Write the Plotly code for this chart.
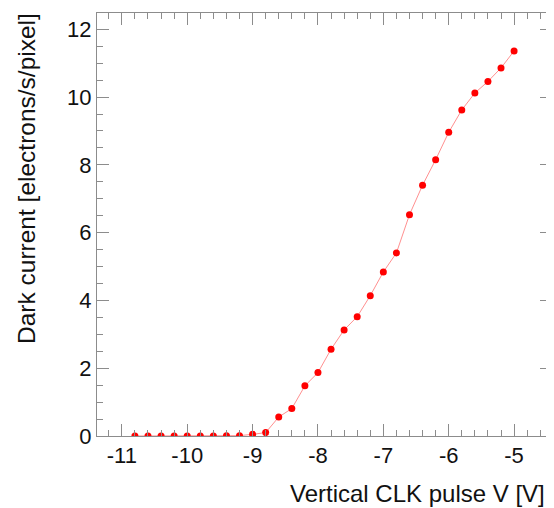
import plotly.graph_objects as go

voltage = [-10.8, -10.6, -10.4, -10.2, -10.0, -9.8, -9.6, -9.4, -9.2, -9.0,
           -8.8, -8.6, -8.4, -8.2, -8.0, -7.8, -7.6, -7.4, -7.2, -7.0,
           -6.8, -6.6, -6.4, -6.2, -6.0, -5.8, -5.6, -5.4, -5.2, -5.0]
dark_current = [0.0, 0.0, 0.0, 0.0, 0.0, 0.0, 0.0, 0.01, 0.01, 0.05,
                0.1, 0.56, 0.81, 1.48, 1.87, 2.56, 3.13, 3.52, 4.14, 4.84,
                5.40, 6.53, 7.40, 8.15, 8.96, 9.62, 10.12, 10.46, 10.86, 11.36]

x_tick_vals = [-11, -10, -9, -8, -7, -6, -5]
x_tick_text = ["-11", "-10", "-9", "-8", "-7", "-6", "-5"]
y_tick_vals = [0, 2, 4, 6, 8, 10, 12]
y_tick_text = ["0", "2", "4", "6", "8", "10", "12"]

x_title = "Vertical CLK pulse V [V]"
y_title = "Dark current [electrons/s/pixel]"

font_family = "Liberation Sans, Arial, Helvetica, sans-serif"
frame_color = "#8c8c8c"
FS = 22
TS = 24

fig = go.Figure()
fig.add_trace(go.Scatter(
    x=voltage, y=dark_current, mode="lines+markers",
    line=dict(color="#ff9090", width=1),
    marker=dict(color="#ff0000", size=7),
    showlegend=False,
))

axis_common = dict(
    showgrid=False, zeroline=False, showline=True, linecolor=frame_color,
    linewidth=1, mirror="allticks", ticks="inside", tickcolor=frame_color,
    tickwidth=1, ticklen=12, automargin=False,
    tickfont=dict(family=font_family, size=FS, color="#111"),
)

fig.update_xaxes(
    range=[-11.38, -4.42], tickmode="array", tickvals=x_tick_vals, ticktext=x_tick_text,
    minor=dict(ticks="inside", ticklen=6, tickcolor=frame_color, dtick=0.2, tick0=-11, showgrid=False),
    **axis_common,
)
fig.update_yaxes(
    range=[0, 12.48], tickmode="array", tickvals=y_tick_vals, ticktext=y_tick_text,
    minor=dict(ticks="inside", ticklen=6, tickcolor=frame_color, dtick=0.5, tick0=0, showgrid=False),
    **axis_common,
)

fig.add_annotation(text=x_title, xref="paper", yref="paper", x=1, y=0,
                   xanchor="right", yanchor="top", yshift=-42, xshift=-5,
                   showarrow=False, font=dict(family=font_family, size=TS, color="#111"))
fig.add_annotation(text=y_title, xref="paper", yref="paper", x=0, y=1,
                   xanchor="right", yanchor="top", xshift=-55, yshift=2, textangle=-90,
                   showarrow=False, font=dict(family=font_family, size=24.5, color="#111"))

# page body has an 8px default margin, so the figure is sized to fill the rest of the window
fig.update_layout(
    width=546, height=500,
    margin=dict(l=89, r=2, t=5, b=72),
    plot_bgcolor="white", paper_bgcolor="white",
)

fig.write_html("out.html")
